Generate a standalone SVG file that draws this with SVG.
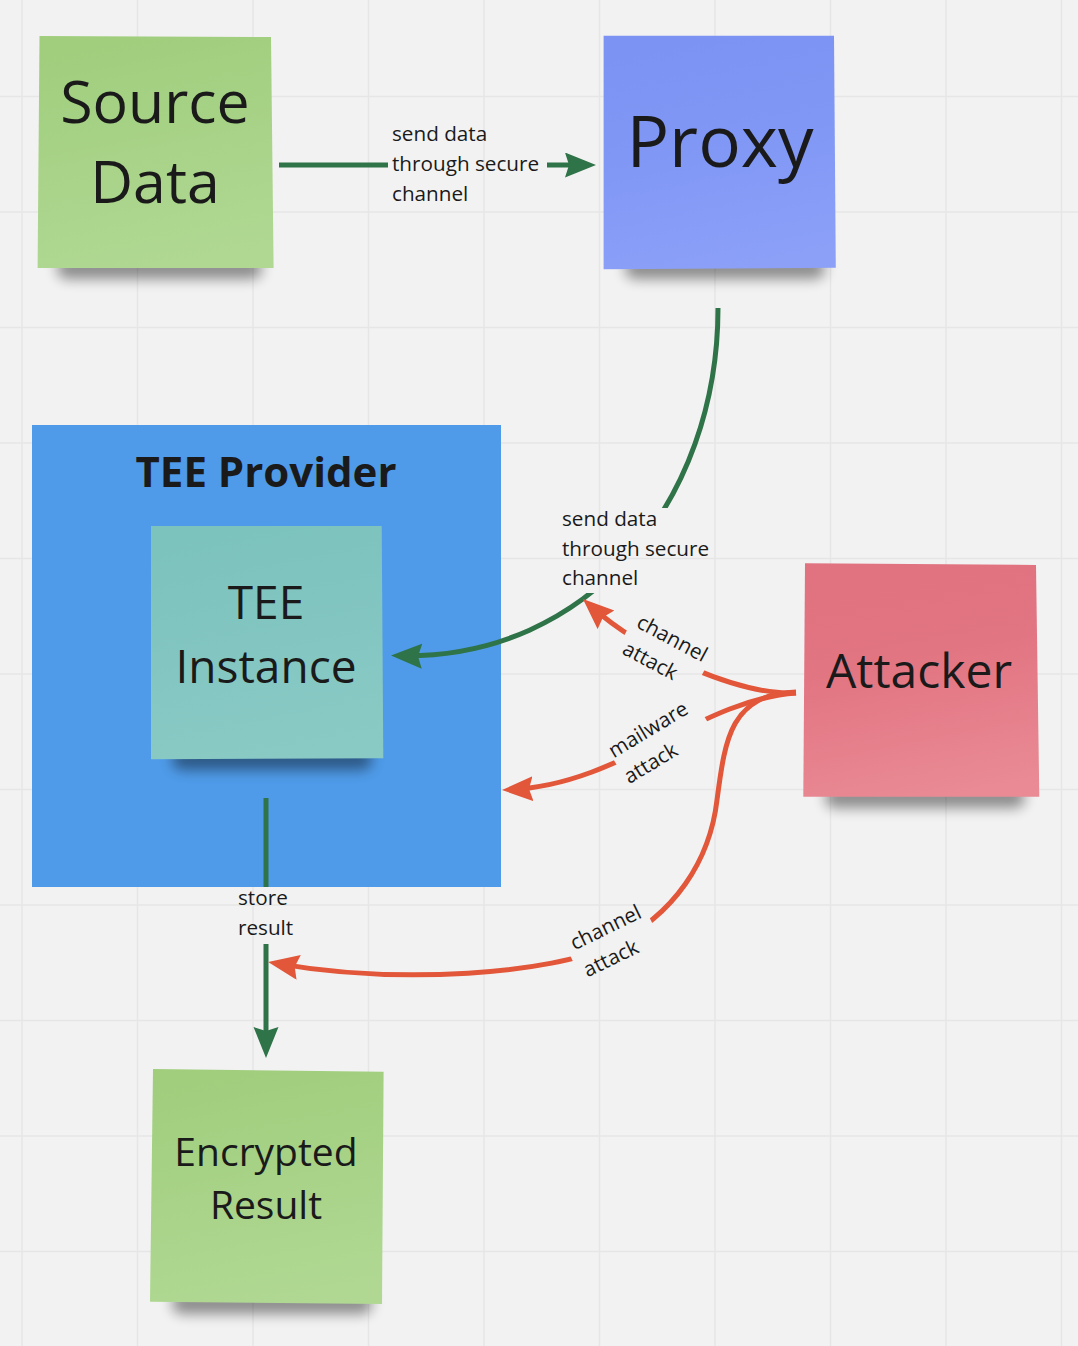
<svg xmlns="http://www.w3.org/2000/svg" width="1078" height="1346" viewBox="0 0 1078 1346">
<defs>
<style>
.grid line{stroke:#e6e6e6;stroke-width:1.5}
.t{font-family:"Open Sans","Liberation Sans",sans-serif;fill:#1a1a1a;text-anchor:middle}
.lbl{font-family:"Open Sans","Liberation Sans",sans-serif;font-size:20.7px;fill:#1a1a1a}
.g{fill:none;stroke:#2f7348;stroke-width:5}
.r{fill:none;stroke:#e2563a;stroke-width:5}
.sh{fill:#000;opacity:0.42;filter:url(#blur)}
</style>
<linearGradient id="gGreen" x1="0.4" y1="0" x2="0.6" y2="1"><stop offset="0" stop-color="#a0ce7d"/><stop offset="1" stop-color="#b0d893"/></linearGradient>
<linearGradient id="gBlue" x1="0.4" y1="0" x2="0.6" y2="1"><stop offset="0" stop-color="#7d93f4"/><stop offset="0.45" stop-color="#8097f5"/><stop offset="1" stop-color="#8ca0f8"/></linearGradient>
<linearGradient id="gTeal" x1="0.4" y1="0" x2="0.6" y2="1"><stop offset="0" stop-color="#7cc2bd"/><stop offset="1" stop-color="#8acac5"/></linearGradient>
<linearGradient id="gRed" x1="0.4" y1="0" x2="0.6" y2="1"><stop offset="0" stop-color="#e17280"/><stop offset="0.4" stop-color="#e27582"/><stop offset="1" stop-color="#e98a94"/></linearGradient>
<filter id="blur" x="-20%" y="-100%" width="140%" height="300%"><feGaussianBlur stdDeviation="6.5"/></filter>
<marker id="ag" markerUnits="userSpaceOnUse" markerWidth="34" markerHeight="26" refX="23" refY="12.5" orient="auto"><path d="M0,0 L31,12.5 L0,25 L4,12.5 z" fill="#2f7348"/></marker>
<marker id="ar" markerUnits="userSpaceOnUse" markerWidth="34" markerHeight="26" refX="23" refY="12.5" orient="auto"><path d="M0,0 L31,12.5 L0,25 L4,12.5 z" fill="#e2563a"/></marker>
<mask id="m1" maskUnits="userSpaceOnUse" x="0" y="0" width="1078" height="1346"><rect width="1078" height="1346" fill="#fff"/><rect x="388" y="150" width="159" height="30" fill="#000"/></mask>
<mask id="m2" maskUnits="userSpaceOnUse" x="0" y="0" width="1078" height="1346"><rect width="1078" height="1346" fill="#fff"/><rect x="555" y="508" width="161" height="85" fill="#000"/></mask>
<mask id="m3" maskUnits="userSpaceOnUse" x="0" y="0" width="1078" height="1346"><rect width="1078" height="1346" fill="#fff"/><rect x="236" y="887" width="60" height="57" fill="#000"/></mask>
<mask id="m4" maskUnits="userSpaceOnUse" x="0" y="0" width="1078" height="1346"><rect width="1078" height="1346" fill="#fff"/><rect x="-43.5" y="-30" width="87" height="60" fill="#000" transform="translate(664.5,652.5) rotate(28)"/></mask>
<mask id="m5" maskUnits="userSpaceOnUse" x="0" y="0" width="1078" height="1346"><rect width="1078" height="1346" fill="#fff"/><rect x="-50" y="-30" width="100" height="60" fill="#000" transform="translate(661,741.5) rotate(-31)"/></mask>
<mask id="m6" maskUnits="userSpaceOnUse" x="0" y="0" width="1078" height="1346"><rect width="1078" height="1346" fill="#fff"/><rect x="-44" y="-30" width="88" height="60" fill="#000" transform="translate(612.5,942) rotate(-26)"/></mask>
</defs>

<rect width="1078" height="1346" fill="#f2f2f2"/>
<g class="grid">
<line x1="22" y1="0" x2="22" y2="1346"/><line x1="137.5" y1="0" x2="137.5" y2="1346"/><line x1="253" y1="0" x2="253" y2="1346"/><line x1="368.5" y1="0" x2="368.5" y2="1346"/><line x1="484" y1="0" x2="484" y2="1346"/><line x1="599.5" y1="0" x2="599.5" y2="1346"/><line x1="715" y1="0" x2="715" y2="1346"/><line x1="830.5" y1="0" x2="830.5" y2="1346"/><line x1="946" y1="0" x2="946" y2="1346"/><line x1="1061.5" y1="0" x2="1061.5" y2="1346"/>
<line x1="0" y1="96.5" x2="1078" y2="96.5"/><line x1="0" y1="212" x2="1078" y2="212"/><line x1="0" y1="327.5" x2="1078" y2="327.5"/><line x1="0" y1="443" x2="1078" y2="443"/><line x1="0" y1="558.5" x2="1078" y2="558.5"/><line x1="0" y1="674" x2="1078" y2="674"/><line x1="0" y1="789.5" x2="1078" y2="789.5"/><line x1="0" y1="905" x2="1078" y2="905"/><line x1="0" y1="1020.5" x2="1078" y2="1020.5"/><line x1="0" y1="1136" x2="1078" y2="1136"/><line x1="0" y1="1251.5" x2="1078" y2="1251.5"/>
</g>

<g id="tee-provider">
<rect x="32" y="425" width="469" height="462" fill="#4f9be9"/>
<text class="t" x="266" y="487" font-size="42" font-weight="bold">TEE Provider</text>
</g>

<g id="tee-instance">
<rect class="sh" x="172" y="748" width="200" height="22" rx="10"/>
<polygon points="151,526 381.7,526 383.3,758.3 151,759.3" fill="url(#gTeal)"/>
<text class="t" x="266" y="619" font-size="46">TEE</text>
<text class="t" x="266" y="683" font-size="46">Instance</text>
</g>

<g id="source-data">
<rect class="sh" x="57" y="257" width="205" height="22" rx="10"/>
<polygon points="39.5,36 271,37 273.6,268 37.6,268" fill="url(#gGreen)"/>
<text class="t" x="155" y="123" font-size="59">Source</text>
<text class="t" x="155" y="203" font-size="59">Data</text>
</g>

<g id="proxy">
<rect class="sh" x="625" y="257" width="200" height="22" rx="10"/>
<polygon points="603.6,35.7 834,35.7 835.8,267.7 603.6,269.3" fill="url(#gBlue)"/>
<text class="t" x="720" y="167" font-size="71">Proxy</text>
</g>

<g id="attacker">
<rect class="sh" x="825" y="786" width="200" height="22" rx="10"/>
<polygon points="805,563.3 1036,565 1039.3,796.7 803.3,796.7" fill="url(#gRed)"/>
<text class="t" x="919" y="688" font-size="48">Attacker</text>
</g>

<g id="encrypted-result">
<rect class="sh" x="172" y="1292" width="200" height="22" rx="10"/>
<polygon points="153,1069 383.6,1071.7 382,1304 150,1301.7" fill="url(#gGreen)"/>
<text class="t" x="266" y="1166" font-size="39">Encrypted</text>
<text class="t" x="266" y="1219" font-size="39">Result</text>
</g>

<g id="connectors">
<line class="g" x1="279" y1="165" x2="588" y2="165" mask="url(#m1)" marker-end="url(#ag)"/>
<text class="lbl" x="392" y="141">send data</text>
<text class="lbl" x="392" y="171">through secure</text>
<text class="lbl" x="392" y="201">channel</text>

<path class="g" d="M718,308 C718,500 590,660 399,655.7" mask="url(#m2)" marker-end="url(#ag)"/>
<text class="lbl" x="562" y="526">send data</text>
<text class="lbl" x="562" y="556">through secure</text>
<text class="lbl" x="562" y="585">channel</text>

<line class="g" x1="266" y1="798" x2="266" y2="1050" mask="url(#m3)" marker-end="url(#ag)"/>
<text class="lbl" x="238" y="905">store</text>
<text class="lbl" x="238" y="935">result</text>

<path class="r" d="M796,693 C740,695 645,655 588.9,604.4" mask="url(#m4)" marker-end="url(#ar)"/>
<g transform="translate(664.5,652.5) rotate(28)"><text class="lbl" x="-38" y="-9">channel</text><text class="lbl" x="-38" y="21">attack</text></g>

<path class="r" d="M796,693 C700,700 620,785 510,789.7" mask="url(#m5)" marker-end="url(#ar)"/>
<g transform="translate(657,743) rotate(-31)"><text class="lbl" x="-45" y="-9">mailware</text><text class="lbl" x="-45" y="21">attack</text></g>

<path class="r" d="M796,692 C730,694 725,740 717,800 C710,860 675,915 612,945 C552,974 400,985 276,963.4" mask="url(#m6)" marker-end="url(#ar)"/>
<g transform="translate(612.5,942) rotate(-26)"><text class="lbl" x="-38" y="-9">channel</text><text class="lbl" x="-38" y="21">attack</text></g>
</g>
</svg>
